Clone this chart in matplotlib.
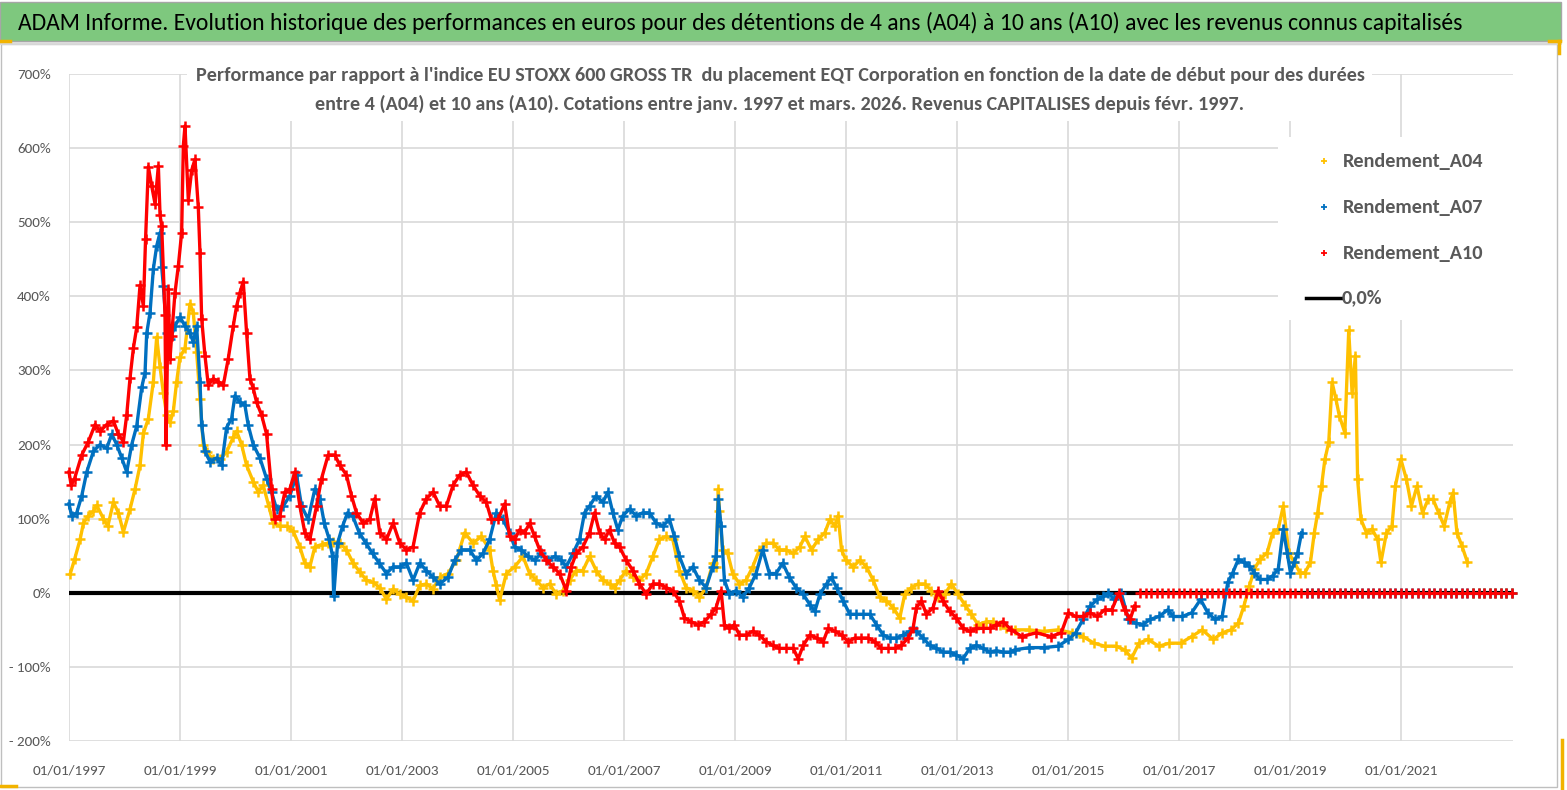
import matplotlib
matplotlib.use("Agg")
import matplotlib.pyplot as plt
from matplotlib import font_manager
from matplotlib.patches import Rectangle
from matplotlib.lines import Line2D

# ---------------- DATA ----------------
TITLE = ("ADAM Informe. Evolution historique des performances en euros pour des détentions "
         "de 4 ans (A04) à 10 ans (A10) avec les revenus connus capitalisés")
SUB1 = ("Performance par rapport à l'indice EU STOXX 600 GROSS TR  du placement EQT Corporation "
        "en fonction de la date de début pour des durées")
SUB2 = ("entre 4 (A04) et 10 ans (A10). Cotations entre janv. 1997 et mars. 2026. "
        "Revenus CAPITALISES depuis févr. 1997.")
SERIES_NAMES = ["Rendement_A04", "Rendement_A07", "Rendement_A10", "0,0%"]

YTICKS = [-200, -100, 0, 100, 200, 300, 400, 500, 600, 700]
YTICK_LABELS = ["- 200%", "- 100%", "0%", "100%", "200%", "300%", "400%", "500%", "600%", "700%"]
XTICKS = [1997, 1999, 2001, 2003, 2005, 2007, 2009, 2011, 2013, 2015, 2017, 2019, 2021]
XTICK_LABELS = ["01/01/1997", "01/01/1999", "01/01/2001", "01/01/2003", "01/01/2005",
                "01/01/2007", "01/01/2009", "01/01/2011", "01/01/2013", "01/01/2015",
                "01/01/2017", "01/01/2019", "01/01/2021"]
X_RANGE = [1997.0, 2023.02]

# start dates (decimal years) and performance (%) while the holding period is complete
A04_dates = [1997.02, 1997.10, 1997.20, 1997.26, 1997.35, 1997.44, 1997.50, 1997.62, 1997.70, 1997.80,
             1997.89, 1997.98, 1998.10, 1998.19, 1998.28, 1998.34, 1998.43, 1998.52, 1998.58, 1998.64,
             1998.70, 1998.76, 1998.82, 1998.88, 1998.94, 1999.00, 1999.09, 1999.18, 1999.24, 1999.30,
             1999.36, 1999.42, 1999.48, 1999.60, 1999.72, 1999.84, 1999.96, 2000.02, 2000.11, 2000.20,
             2000.32, 2000.41, 2000.50, 2000.60, 2000.68, 2000.80, 2000.92, 2001.04, 2001.16, 2001.25,
             2001.34, 2001.43, 2001.55, 2001.67, 2001.76, 2001.88, 2002.00, 2002.12, 2002.24, 2002.36,
             2002.48, 2002.60, 2002.72, 2002.84, 2002.96, 2003.08, 2003.20, 2003.32, 2003.44, 2003.56,
             2003.68, 2003.83, 2003.98, 2004.13, 2004.28, 2004.43, 2004.58, 2004.64, 2004.70, 2004.76,
             2004.88, 2005.03, 2005.18, 2005.30, 2005.42, 2005.54, 2005.66, 2005.78, 2005.90, 2006.02,
             2006.14, 2006.26, 2006.38, 2006.50, 2006.62, 2006.74, 2006.83, 2006.92, 2007.04, 2007.16,
             2007.28, 2007.40, 2007.52, 2007.64, 2007.76, 2007.88, 2008.00, 2008.12, 2008.24, 2008.36,
             2008.48, 2008.60, 2008.66, 2008.70, 2008.72, 2008.78, 2008.87, 2008.96, 2009.08, 2009.20,
             2009.32, 2009.44, 2009.56, 2009.68, 2009.80, 2009.92, 2010.05, 2010.17, 2010.26, 2010.38,
             2010.50, 2010.62, 2010.71, 2010.80, 2010.86, 2010.92, 2011.00, 2011.13, 2011.25, 2011.37,
             2011.49, 2011.61, 2011.73, 2011.85, 2011.97, 2012.06, 2012.18, 2012.30, 2012.42, 2012.54,
             2012.66, 2012.78, 2012.90, 2013.02, 2013.14, 2013.26, 2013.38, 2013.53, 2013.65, 2013.77,
             2013.89, 2014.04, 2014.30, 2014.56, 2014.82, 2015.08, 2015.27, 2015.47, 2015.66, 2015.86,
             2016.02, 2016.15, 2016.28, 2016.44, 2016.64, 2016.83, 2017.03, 2017.23, 2017.42, 2017.62,
             2017.78, 2017.94, 2018.07, 2018.17, 2018.27, 2018.36, 2018.46, 2018.59, 2018.69, 2018.79,
             2018.88, 2018.98, 2019.08, 2019.18, 2019.27, 2019.37, 2019.44, 2019.50, 2019.57, 2019.63,
             2019.70, 2019.76, 2019.83, 2019.89, 2019.99, 2020.06, 2020.12, 2020.18, 2020.22, 2020.28,
             2020.38, 2020.48, 2020.58, 2020.64, 2020.74, 2020.84, 2020.90, 2021.00, 2021.10, 2021.19,
             2021.29, 2021.39, 2021.49, 2021.58, 2021.68, 2021.78, 2021.88, 2021.94, 2022.01, 2022.10,
             2022.20]
A04_values = [25, 45, 72, 94, 104, 110, 118, 100, 90, 122,
              108, 82, 113, 140, 172, 215, 235, 285, 345, 305,
              270, 240, 230, 245, 285, 318, 330, 390, 378, 325,
              262, 200, 190, 180, 180, 190, 210, 218, 200, 172,
              150, 136, 145, 117, 94, 90, 90, 83, 62, 40,
              35, 62, 65, 67, 69, 67, 58, 40, 28, 17,
              14, 7, -9, 5, -2, -6, -11, 10, 12, 5,
              21, 26, 44, 81, 67, 76, 58, 30, 10, -10,
              26, 35, 49, 26, 17, 7, 12, -2, 3, 17,
              30, 30, 49, 30, 17, 12, 7, 17, 30, 21,
              17, 26, 49, 72, 76, 72, 30, 7, 3, -6,
              7, 40, 35, 140, 110, 58, 53, 26, 12, 17,
              35, 58, 67, 67, 58, 58, 53, 62, 76, 58,
              72, 81, 99, 90, 104, 58, 44, 35, 44, 35,
              17, -6, -11, -20, -34, -2, 7, 12, 12, 3,
              -6, -2, 12, -2, -16, -29, -43, -39, -39, -43,
              -48, -50, -50, -52, -50, -54, -59, -68, -72, -72,
              -77, -88, -68, -63, -72, -68, -68, -59, -50, -63,
              -54, -50, -41, -18, 9, 32, 45, 54, 81, 86,
              117, 54, 41, 27, 27, 41, 81, 108, 144, 180,
              203, 284, 261, 239, 216, 354, 270, 320, 153, 99,
              81, 86, 72, 41, 81, 90, 144, 180, 153, 117,
              144, 108, 126, 126, 108, 90, 122, 135, 81, 63,
              41]
# start dates after the last complete period: value shown as 0
A04_tail_dates = [2022.3, 2022.4, 2022.5, 2022.6, 2022.7, 2022.8, 2022.9, 2023.0]
A04_tail_values = [0, 0, 0, 0, 0, 0, 0, 0]

A07_dates = [1997.00, 1997.05, 1997.14, 1997.23, 1997.32, 1997.44, 1997.56, 1997.68, 1997.77, 1997.86,
             1997.95, 1998.04, 1998.13, 1998.22, 1998.31, 1998.37, 1998.40, 1998.46, 1998.52, 1998.58,
             1998.64, 1998.67, 1998.70, 1998.76, 1998.82, 1998.91, 1999.00, 1999.09, 1999.18, 1999.24,
             1999.30, 1999.36, 1999.39, 1999.45, 1999.54, 1999.66, 1999.75, 1999.84, 1999.93, 1999.99,
             2000.08, 2000.17, 2000.23, 2000.32, 2000.44, 2000.56, 2000.65, 2000.74, 2000.86, 2000.98,
             2001.10, 2001.19, 2001.31, 2001.43, 2001.52, 2001.60, 2001.69, 2001.75, 2001.77, 2001.84,
             2001.93, 2002.02, 2002.11, 2002.23, 2002.35, 2002.47, 2002.59, 2002.72, 2002.84, 2002.96,
             2003.08, 2003.20, 2003.32, 2003.44, 2003.56, 2003.68, 2003.83, 2003.95, 2004.07, 2004.22,
             2004.34, 2004.46, 2004.58, 2004.70, 2004.82, 2004.94, 2005.03, 2005.15, 2005.27, 2005.39,
             2005.51, 2005.63, 2005.75, 2005.87, 2005.96, 2006.08, 2006.20, 2006.29, 2006.38, 2006.50,
             2006.62, 2006.71, 2006.80, 2006.89, 2006.98, 2007.10, 2007.22, 2007.34, 2007.46, 2007.58,
             2007.70, 2007.82, 2007.91, 2008.00, 2008.12, 2008.24, 2008.36, 2008.48, 2008.60, 2008.66,
             2008.70, 2008.75, 2008.81, 2008.90, 2009.02, 2009.14, 2009.26, 2009.38, 2009.50, 2009.62,
             2009.74, 2009.86, 2009.98, 2010.10, 2010.23, 2010.35, 2010.44, 2010.53, 2010.65, 2010.74,
             2010.83, 2010.95, 2011.07, 2011.19, 2011.31, 2011.43, 2011.55, 2011.67, 2011.79, 2011.91,
             2012.03, 2012.15, 2012.27, 2012.39, 2012.51, 2012.63, 2012.75, 2012.87, 2012.99, 2013.11,
             2013.23, 2013.35, 2013.47, 2013.59, 2013.71, 2013.83, 2013.95, 2014.04, 2014.30, 2014.56,
             2014.82, 2015.01, 2015.14, 2015.27, 2015.40, 2015.53, 2015.63, 2015.73, 2015.83, 2015.96,
             2016.09, 2016.22, 2016.35, 2016.48, 2016.64, 2016.80, 2016.90, 2017.06, 2017.23, 2017.39,
             2017.52, 2017.65, 2017.78, 2017.88, 2017.97, 2018.07, 2018.17, 2018.27, 2018.36, 2018.46,
             2018.59, 2018.69, 2018.79, 2018.88, 2018.95, 2019.01, 2019.08, 2019.14, 2019.21]
A07_values = [120, 103, 108, 131, 163, 191, 200, 195, 214, 200,
              182, 163, 200, 225, 277, 297, 350, 378, 437, 468,
              486, 440, 414, 351, 342, 360, 372, 360, 351, 338,
              360, 285, 226, 191, 177, 182, 172, 223, 235, 266,
              257, 253, 226, 200, 182, 154, 136, 113, 117, 131,
              159, 117, 99, 140, 127, 94, 72, 49, -5, 67,
              90, 108, 104, 81, 67, 53, 40, 26, 35, 35,
              40, 17, 40, 30, 21, 12, 21, 44, 58, 58,
              44, 53, 72, 108, 99, 81, 62, 58, 49, 44,
              53, 44, 49, 44, 35, 53, 72, 108, 117, 131,
              122, 136, 108, 85, 104, 113, 104, 108, 108, 94,
              90, 99, 76, 49, 26, 35, 17, 7, 35, 49,
              127, 90, 17, -2, 3, -6, 7, 26, 58, 26,
              26, 40, 21, 7, -2, -16, -25, -2, 12, 21,
              7, -11, -29, -29, -29, -29, -43, -57, -61, -61,
              -57, -52, -52, -61, -71, -75, -80, -80, -84, -89,
              -75, -71, -75, -80, -78, -80, -80, -77, -74, -74,
              -72, -63, -54, -36, -18, -9, -5, 0, -9, 0,
              -36, -41, -43, -36, -32, -23, -32, -32, -27, -9,
              -27, -36, -32, 14, 27, 45, 41, 36, 27, 18,
              18, 23, 32, 86, 54, 27, 41, 54, 81]
A07_tail_dates = [2019.3, 2019.4, 2019.5, 2019.6, 2019.7, 2019.8, 2019.9, 2020.0, 2020.1, 2020.2,
                  2020.3, 2020.4, 2020.5, 2020.6, 2020.7, 2020.8, 2020.9, 2021.0, 2021.1, 2021.2,
                  2021.3, 2021.4, 2021.5, 2021.6, 2021.7, 2021.8, 2021.9, 2022.0, 2022.1, 2022.2,
                  2022.3, 2022.4, 2022.5, 2022.6, 2022.7, 2022.8, 2022.9, 2023.0]
A07_tail_values = [0, 0, 0, 0, 0, 0, 0, 0, 0, 0,
                   0, 0, 0, 0, 0, 0, 0, 0, 0, 0,
                   0, 0, 0, 0, 0, 0, 0, 0, 0, 0,
                   0, 0, 0, 0, 0, 0, 0, 0]

A10_dates = [1997.00, 1997.04, 1997.10, 1997.23, 1997.35, 1997.47, 1997.56, 1997.68, 1997.80, 1997.89,
             1997.98, 1998.04, 1998.10, 1998.16, 1998.22, 1998.28, 1998.34, 1998.38, 1998.43, 1998.49,
             1998.55, 1998.61, 1998.64, 1998.67, 1998.73, 1998.75, 1998.79, 1998.82, 1998.85, 1998.91,
             1998.97, 1999.03, 1999.06, 1999.09, 1999.15, 1999.21, 1999.27, 1999.33, 1999.36, 1999.39,
             1999.45, 1999.51, 1999.60, 1999.69, 1999.78, 1999.87, 1999.96, 2000.02, 2000.08, 2000.14,
             2000.20, 2000.26, 2000.32, 2000.38, 2000.47, 2000.56, 2000.65, 2000.71, 2000.80, 2000.89,
             2000.98, 2001.07, 2001.16, 2001.25, 2001.34, 2001.46, 2001.55, 2001.67, 2001.79, 2001.88,
             2002.00, 2002.09, 2002.18, 2002.30, 2002.42, 2002.51, 2002.60, 2002.72, 2002.84, 2002.96,
             2003.08, 2003.20, 2003.32, 2003.44, 2003.56, 2003.68, 2003.80, 2003.92, 2004.04, 2004.16,
             2004.28, 2004.40, 2004.52, 2004.61, 2004.73, 2004.85, 2004.94, 2005.03, 2005.12, 2005.21,
             2005.30, 2005.39, 2005.48, 2005.60, 2005.72, 2005.84, 2005.96, 2006.05, 2006.14, 2006.26,
             2006.38, 2006.47, 2006.56, 2006.65, 2006.74, 2006.83, 2006.92, 2007.04, 2007.16, 2007.28,
             2007.40, 2007.52, 2007.64, 2007.76, 2007.88, 2008.00, 2008.09, 2008.21, 2008.33, 2008.45,
             2008.57, 2008.66, 2008.75, 2008.81, 2008.90, 2008.99, 2009.08, 2009.20, 2009.32, 2009.44,
             2009.56, 2009.68, 2009.80, 2009.92, 2010.05, 2010.14, 2010.23, 2010.35, 2010.47, 2010.59,
             2010.68, 2010.80, 2010.92, 2011.04, 2011.16, 2011.28, 2011.40, 2011.52, 2011.64, 2011.76,
             2011.88, 2012.00, 2012.12, 2012.21, 2012.27, 2012.36, 2012.45, 2012.57, 2012.66, 2012.75,
             2012.87, 2012.99, 2013.11, 2013.23, 2013.35, 2013.47, 2013.59, 2013.71, 2013.83, 2013.98,
             2014.17, 2014.43, 2014.69, 2014.88, 2015.01, 2015.14, 2015.27, 2015.40, 2015.53, 2015.66,
             2015.79, 2015.92, 2016.02, 2016.12, 2016.20]
A10_values = [163, 145, 154, 186, 204, 227, 218, 227, 232, 214,
              204, 240, 290, 330, 358, 415, 387, 478, 575, 549,
              525, 576, 510, 495, 375, 200, 410, 316, 347, 405,
              441, 486, 603, 630, 530, 570, 585, 520, 459, 370,
              320, 280, 289, 285, 280, 316, 360, 387, 405, 420,
              351, 289, 276, 257, 240, 214, 140, 99, 104, 136,
              140, 163, 117, 81, 72, 117, 154, 186, 186, 172,
              159, 131, 108, 94, 99, 127, 81, 72, 94, 67,
              58, 62, 108, 127, 136, 117, 117, 145, 159, 163,
              145, 131, 122, 99, 99, 120, 76, 72, 85, 81,
              94, 76, 58, 44, 35, 26, 3, 35, 53, 62,
              81, 108, 81, 72, 85, 67, 62, 44, 30, 12,
              -2, 12, 12, 7, 3, -11, -34, -39, -43, -39,
              -29, -20, 3, -43, -48, -43, -57, -57, -52, -57,
              -66, -71, -75, -75, -75, -89, -71, -57, -61, -66,
              -48, -52, -57, -66, -61, -61, -61, -66, -75, -75,
              -75, -71, -61, -48, -20, -11, -29, -20, 3, -11,
              -25, -34, -48, -52, -48, -48, -48, -43, -39, -50,
              -59, -54, -59, -54, -27, -32, -32, -27, -32, -23,
              -23, 0, -23, -36, -18]
A10_tail_dates = [2016.3, 2016.4, 2016.5, 2016.6, 2016.7, 2016.8, 2016.9, 2017.0, 2017.1, 2017.2,
                  2017.3, 2017.4, 2017.5, 2017.6, 2017.7, 2017.8, 2017.9, 2018.0, 2018.1, 2018.2,
                  2018.3, 2018.4, 2018.5, 2018.6, 2018.7, 2018.8, 2018.9, 2019.0, 2019.1, 2019.2,
                  2019.3, 2019.4, 2019.5, 2019.6, 2019.7, 2019.8, 2019.9, 2020.0, 2020.1, 2020.2,
                  2020.3, 2020.4, 2020.5, 2020.6, 2020.7, 2020.8, 2020.9, 2021.0, 2021.1, 2021.2,
                  2021.3, 2021.4, 2021.5, 2021.6, 2021.7, 2021.8, 2021.9, 2022.0, 2022.1, 2022.2,
                  2022.3, 2022.4, 2022.5, 2022.6, 2022.7, 2022.8, 2022.9, 2023.0]
A10_tail_values = [0, 0, 0, 0, 0, 0, 0, 0, 0, 0,
                   0, 0, 0, 0, 0, 0, 0, 0, 0, 0,
                   0, 0, 0, 0, 0, 0, 0, 0, 0, 0,
                   0, 0, 0, 0, 0, 0, 0, 0, 0, 0,
                   0, 0, 0, 0, 0, 0, 0, 0, 0, 0,
                   0, 0, 0, 0, 0, 0, 0, 0, 0, 0,
                   0, 0, 0, 0, 0, 0, 0, 0]

ZERO_dates = [1997.0, 2023.02]
ZERO_values = [0.0, 0.0]

COLORS = ["#FFC000", "#0070C0", "#FF0000", "#000000"]

# ---------------- FIGURE ----------------
W, H = 1567, 790
avail = {f.name for f in font_manager.fontManager.ttflist}
NARROW = "DejaVu Sans"
for cand in ["Carlito", "Liberation Sans Narrow", "Open Sans Condensed", "Roboto Condensed",
             "PT Sans Narrow", "Archivo Narrow", "Open Sans"]:
    if cand in avail:
        NARROW = cand
        break
GREY = "#595959"

fig = plt.figure(figsize=(W / 100, H / 100), dpi=100)
fig.patch.set_facecolor("white")
renderer = fig.canvas.get_renderer()


def fx(px):
    return px / W


def fy(py):
    return 1 - py / H


def fit(t, target):
    w = t.get_window_extent(renderer).width
    t.set_fontsize(t.get_fontsize() * target / w)
    return t


# frame / banner
fig.add_artist(Rectangle((fx(1), fy(787)), fx(1556), 743 / H, transform=fig.transFigure,
                         facecolor="none", edgecolor="#BFBFBF", lw=1))
fig.add_artist(Rectangle((0, fy(41)), fx(1561), 39 / H, transform=fig.transFigure,
                         facecolor="#7EC87E", edgecolor="#A6A6A6", lw=1))
fig.add_artist(Line2D([0, fx(1560)], [fy(43), fy(43)], transform=fig.transFigure,
                      color="#D9D9D9", lw=2))
for xs, ys in [([0, 10], [41, 41]), ([0, 16], [786, 786]), ([1549, 1560], [41, 41]),
               ([1559, 1559], [41, 53]), ([1562, 1562], [740, 790])]:
    fig.add_artist(Line2D([fx(v) for v in xs], [fy(v) for v in ys], transform=fig.transFigure,
                          color="#F2B300", lw=2.5))

t = fig.text(fx(18), fy(23), TITLE, ha="left", va="center", family=NARROW, fontsize=16,
             color="black")
fit(t, 1444)

# axes
ax = fig.add_axes([fx(69), fy(741), fx(1513 - 69), (741 - 74) / H])
ax.set_xlim(*X_RANGE)
ax.set_ylim(-200, 700)
ax.set_axisbelow(True)
ax.set_yticks(YTICKS)
ax.set_yticklabels(YTICK_LABELS)
ax.set_xticks(XTICKS)
ax.set_xticklabels(XTICK_LABELS)
ax.grid(True, color="#D9D9D9", lw=1.2)
for s in ax.spines.values():
    s.set_visible(False)

probe = fig.text(0, 0, "01/01/1997", family=NARROW, fontsize=10)
fit(probe, 74)
xsize = probe.get_fontsize()
probe.set_text("- 200%")
probe.set_fontsize(10)
fit(probe, 42)
ysize = probe.get_fontsize()
probe.remove()
ax.tick_params(axis="x", length=0, pad=17, labelsize=xsize, labelcolor=GREY)
ax.tick_params(axis="y", length=0, pad=13, labelsize=ysize, labelcolor=GREY)
for lab in ax.get_xticklabels() + ax.get_yticklabels():
    lab.set_family(NARROW)

# white boxes for subtitle and legend (cover gridlines)
ax.add_patch(Rectangle((fx(187), fy(121)), fx(1372 - 187), 62 / H, transform=fig.transFigure,
                       facecolor="white", edgecolor="none", zorder=0.8, clip_on=False))
ax.add_patch(Rectangle((fx(1278), fy(320)), fx(1514 - 1278), (320 - 137) / H,
                       transform=fig.transFigure, facecolor="white", edgecolor="none",
                       zorder=0.8, clip_on=False))

# data
ax.plot(ZERO_dates, ZERO_values, color=COLORS[3], lw=3, zorder=1.9, solid_capstyle="butt")
for d, v, td, tv, c, z in [(A04_dates, A04_values, A04_tail_dates, A04_tail_values, COLORS[0], 2.0),
                           (A07_dates, A07_values, A07_tail_dates, A07_tail_values, COLORS[1], 2.1),
                           (A10_dates, A10_values, A10_tail_dates, A10_tail_values, COLORS[2], 2.2)]:
    ax.plot(d, v, linestyle="-", lw=2.4, marker="+", markersize=6.5, mew=1.8, color=c, zorder=z,
            clip_on=False)
    ax.plot(td, tv, linestyle="none", marker="+", markersize=6.5, mew=1.8, color=c, zorder=z,
            clip_on=False)

# subtitle
s1 = fig.text(fx(780), fy(75), SUB1, ha="center", va="center", family=NARROW,
              fontweight="bold", color=GREY, fontsize=12)
fit(s1, 1166)
s2 = fig.text(fx(780), fy(104), SUB2, ha="center", va="center", family=NARROW,
              fontweight="bold", color=GREY, fontsize=s1.get_fontsize())

# legend
leg_y = [161, 207, 253]
lt = None
for name, c, yy in zip(SERIES_NAMES[:3], COLORS[:3], leg_y):
    fig.add_artist(Line2D([fx(1324)], [fy(yy)], transform=fig.transFigure, marker="+",
                          markersize=4, mew=1.3, color=c, linestyle="none"))
    lt = fig.text(fx(1343), fy(yy), name, ha="left", va="center", family=NARROW,
                  fontweight="bold", color=GREY, fontsize=12)
    fit(lt, 141)
fig.add_artist(Line2D([fx(1306), fx(1341)], [fy(298), fy(298)], transform=fig.transFigure,
                      color="black", lw=2.5))
fig.text(fx(1342), fy(298), SERIES_NAMES[3], ha="left", va="center", family=NARROW,
         fontweight="bold", color=GREY, fontsize=lt.get_fontsize())

fig.savefig("out.png", dpi=100, facecolor="white")
